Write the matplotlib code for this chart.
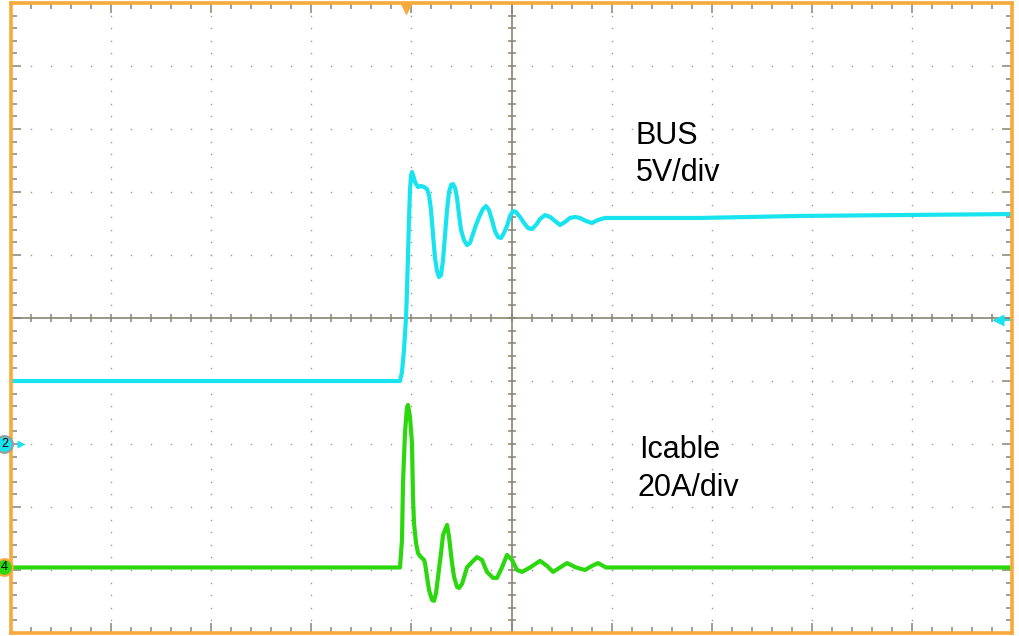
import numpy as np
import matplotlib
matplotlib.use("Agg")
import matplotlib.pyplot as plt
from matplotlib.transforms import blended_transform_factory

# time axis in divisions from screen centre (10 div across)
bus_t = [-5.0, -1.114, -1.094, -1.074, -1.054, -1.044, -1.034, -1.024, -1.014, -1.004,
         -0.994, -0.984, -0.964, -0.934, -0.904, -0.874, -0.844, -0.824, -0.804, -0.784,
         -0.764, -0.744, -0.724, -0.704, -0.684, -0.664, -0.644, -0.624, -0.604, -0.584,
         -0.564, -0.544, -0.524, -0.504, -0.475, -0.445, -0.415, -0.385, -0.355, -0.315,
         -0.285, -0.255, -0.225, -0.195, -0.165, -0.135, -0.105, -0.075, -0.045, -0.015,
         0.015, 0.045, 0.085, 0.125, 0.165, 0.205, 0.245, 0.285, 0.335, 0.385,
         0.435, 0.485, 0.534, 0.584, 0.634, 0.684, 0.744, 0.804, 0.864, 0.934,
         1.084, 1.883, 2.882, 3.881, 5.0]
bus_v = [5.0, 5.0, 5.71, 7.46, 10.0, 12.22, 15.0, 17.78, 20.16, 21.27,
         21.59, 21.35, 20.79, 20.40, 20.48, 20.40, 20.24, 19.76, 18.57, 16.59,
         14.76, 13.73, 13.25, 13.41, 14.6, 16.59, 18.57, 20.0, 20.56, 20.63,
         20.32, 19.52, 18.17, 16.98, 16.19, 15.79, 15.95, 16.67, 17.38, 18.17,
         18.65, 18.89, 18.57, 17.78, 16.9, 16.43, 16.35, 16.75, 17.3, 18.1,
         18.49, 18.41, 18.02, 17.54, 17.14, 17.06, 17.38, 17.86, 18.17, 18.02,
         17.7, 17.38, 17.62, 17.94, 18.02, 17.94, 17.7, 17.54, 17.78, 17.94,
         17.94, 17.94, 18.1, 18.17, 18.25]

icable_t = [-5.0, -1.114, -1.094, -1.084, -1.064, -1.044, -1.034, -1.014, -0.994, -0.984,
            -0.974, -0.954, -0.934, -0.914, -0.874, -0.864, -0.844, -0.824, -0.794, -0.774,
            -0.754, -0.734, -0.704, -0.684, -0.644, -0.624, -0.594, -0.574, -0.544, -0.524,
            -0.494, -0.445, -0.395, -0.345, -0.295, -0.245, -0.185, -0.145, -0.095, -0.045,
            0.005, 0.055, 0.105, 0.185, 0.285, 0.355, 0.415, 0.485, 0.554, 0.644,
            0.734, 0.804, 0.864, 0.944, 1.883, 5.0]
icable_a = [0.0, 0.0, 8.7, 26.8, 42.7, 50.9, 51.6, 47.8, 39.5, 22.4,
            14.1, 7.8, 4.6, 3.6, 2.4, 1.4, -3.0, -7.2, -10.3, -10.6,
            -8.1, -3.0, 4.6, 10.3, 13.5, 9.7, 1.4, -3.0, -6.2, -6.5,
            -5.2, 0.0, 1.7, 3.3, 2.4, -1.4, -3.3, -3.3, 0.0, 4.0,
            2.4, -0.8, -1.4, 0.0, 2.1, 0.5, -1.4, 0.0, 1.4, 0.0,
            -0.8, 0.5, 1.4, 0.0, 0.0, 0.0]

bus_scale = 5.0        # V/div
bus_offset = -2.0      # div
icable_scale = 20.0    # A/div
icable_offset = -3.96  # div
trig_t = -1.054
trig_level = 9.85      # V on BUS

cyan = '#18e4ef'
green = '#2bd80e'
orange = '#f7a93b'
gridc = '#8b8472'
dotc = '#a09a8c'

bus_y = np.array(bus_v) / bus_scale + bus_offset
icable_y = np.array(icable_a) / icable_scale + icable_offset

fig = plt.figure(figsize=(10.19, 6.36), dpi=100)
ax = fig.add_axes([11/1019, 3/636, 1001/1019, 630/636])
ax.set_xlim(-5, 5)
ax.set_ylim(-5, 5)

# dotted graticule
minor = np.round(np.arange(-5, 5.001, 0.2), 2)
for k in [-4, -3, -2, -1, 1, 2, 3, 4]:
    ax.plot(np.full(len(minor), k), minor, ls='none', marker='s', ms=1.0,
            mec='none', color=dotc, zorder=1)
    ax.plot(minor, np.full(len(minor), k), ls='none', marker='s', ms=1.0,
            mec='none', color=dotc, zorder=1)

# centre cross with ticks
ax.axhline(0, color=gridc, lw=1.2, zorder=1)
ax.axvline(0, color=gridc, lw=1.2, zorder=1)
ax.plot(minor, np.zeros(len(minor)), ls='none', marker='|', ms=5.5, mew=1.1,
        color=gridc, zorder=1)
ax.plot(np.zeros(len(minor)), minor, ls='none', marker='_', ms=5.5, mew=1.1,
        color=gridc, zorder=1)

# edge ticks
ax.set_xticks(np.arange(-5, 6, 1))
ax.set_yticks(np.arange(-5, 6, 1))
ax.set_xticks(minor, minor=True)
ax.set_yticks(minor, minor=True)
ax.tick_params(which='both', direction='in', top=True, right=True,
               labelbottom=False, labelleft=False, color=gridc, width=1.1)
ax.tick_params(which='major', length=7)
ax.tick_params(which='minor', length=4.5)

for s in ax.spines.values():
    s.set_color(orange)
    s.set_linewidth(2.6)
    s.set_zorder(5)

# traces
ax.plot(bus_t, bus_y, color=cyan, lw=3.0, zorder=3)
ax.plot(icable_t, icable_y, color=green, lw=3.0, zorder=3)

# labels
lab = dict(fontsize=22, family='Liberation Sans', color='black', va='baseline', ha='left')
ax.text(1.24, 2.762, 'BUS', **lab)
ax.text(1.24, 2.175, '5V/div', **lab)
ax.text(1.27, -2.222, 'Icable', **lab)
ax.text(1.26, -2.825, '20A/div', **lab)

# trigger position and level markers
tr = blended_transform_factory(ax.transData, ax.transAxes)
ax.plot([trig_t], [0.99], transform=tr, marker='v', ms=9, color=orange,
        mec='none', clip_on=False, zorder=6)
lvl = trig_level / bus_scale + bus_offset
ax.plot([4.83, 5.0], [lvl, lvl], color=cyan, lw=1.5, clip_on=False, zorder=4)
ax.plot([4.86], [lvl], marker='<', ms=9, color=cyan, mec='none', clip_on=False, zorder=4)

# channel ground markers
for lev, face, edge, name in [(bus_offset, cyan, '#9a9a9a', '2'),
                              (icable_offset, green, orange, '4')]:
    ax.plot([-5.065], [lev], marker='o', ms=12, mfc=face, mec=edge, mew=1.5,
            clip_on=False, zorder=7)
    ax.text(-5.065, lev, name, fontsize=9, family='Liberation Sans',
            ha='center', va='center', zorder=8)
    if name == '2':
        ax.plot([-4.9], [lev], marker='>', ms=6, color=cyan, mec='none',
                clip_on=False, zorder=7)

fig.savefig('out.png', dpi=100)
